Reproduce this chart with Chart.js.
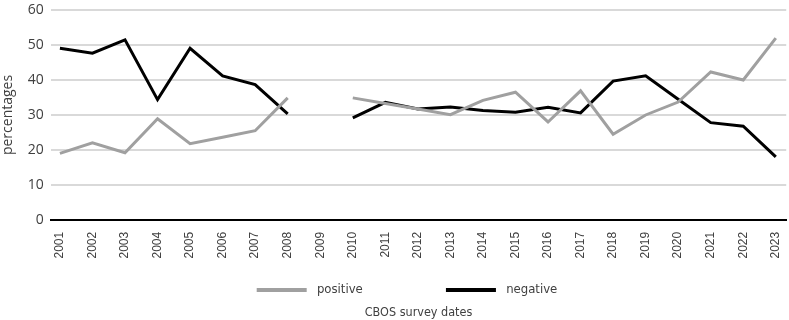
<!DOCTYPE html>
<html>
<head>
<meta charset="utf-8">
<script src="https://cdn.jsdelivr.net/npm/chart.js@4/dist/chart.umd.min.js"></script>
<style>
  html, body { margin: 0; padding: 0; background: #fff; }
  #wrap { width: 789px; height: 320px; }
</style>
</head>
<body>
<div id="wrap"><canvas id="trendChart"></canvas></div>
<script>
const years = [2001, 2002, 2003, 2004, 2005, 2006, 2007, 2008, 2009, 2010, 2011, 2012,
  2013, 2014, 2015, 2016, 2017, 2018, 2019, 2020, 2021, 2022, 2023]
const positive = [19.0, 22.0, 19.2, 28.9, 21.8, 23.6, 25.5, 34.9, null, 34.9, 33.3, 31.7,
  30.1, 34.2, 36.5, 28.0, 36.9, 24.5, 30.0, 33.7, 42.3, 40.0, 52.0]
const negative = [49.1, 47.7, 51.5, 34.4, 49.1, 41.2, 38.7, 30.3, null, 29.2, 33.6, 31.7,
  32.3, 31.3, 30.8, 32.2, 30.6, 39.7, 41.2, 34.5, 27.8, 26.8, 18.0]
const yTicks = [0, 10, 20, 30, 40, 50, 60]

const narrow = "'Liberation Sans Narrow', 'DejaVu Sans Condensed', sans-serif"
const ctx = document.getElementById('trendChart').getContext('2d')

const toPoints = vals => years.map((y, i) => ({ x: y, y: vals[i] }))

// legend sits a bit right of the canvas centre, the x title is centred on the plot
const centreBottomBoxes = {
  id: 'centreBottomBoxes',
  afterLayout(chart) {
    chart.legend.left = 25
    chart.titleBlock.left = chart.chartArea.left
    chart.titleBlock.right = chart.chartArea.right
  }
}

new Chart(ctx, {
  type: 'line',
  data: {
    datasets: [
      {
        label: 'positive',
        data: toPoints(positive),
        borderColor: '#a0a0a0',
        backgroundColor: '#a0a0a0',
        borderWidth: 3,
        pointRadius: 0,
        tension: 0,
        spanGaps: false
      },
      {
        label: 'negative',
        data: toPoints(negative),
        borderColor: '#000000',
        backgroundColor: '#000000',
        borderWidth: 3,
        pointRadius: 0,
        tension: 0,
        spanGaps: false
      }
    ]
  },
  options: {
    responsive: true,
    maintainAspectRatio: false,
    animation: false,
    layout: { padding: 0 },
    plugins: {
      tooltip: { enabled: false },
      legend: {
        position: 'bottom',
        labels: {
          boxWidth: 50,
          boxHeight: 4,
          padding: 13,
          color: '#404040',
          font: { family: narrow, size: 13 },
          generateLabels: chart => {
            const items = Chart.defaults.plugins.legend.labels.generateLabels(chart)
            items[0].text = ' positive' + '\u2002'.repeat(12)
            items[1].text = ' negative'
            items.forEach(it => { it.lineWidth = 0 })
            return items
          }
        }
      },
      title: {
        display: true,
        position: 'bottom',
        text: 'CBOS survey dates',
        color: '#404040',
        font: { family: narrow, size: 12.5, weight: 'normal', lineHeight: 1 },
        padding: { top: 0, bottom: 1 }
      }
    },
    scales: {
      x: {
        type: 'linear',
        min: 2000.72,
        max: 2023.32,
        grid: { display: false, drawTicks: false },
        border: { display: true, color: '#000000', width: 2 },
        afterBuildTicks: s => { s.ticks = years.map(v => ({ value: v })) },
        ticks: {
          autoSkip: false,
          maxRotation: 90,
          minRotation: 90,
          padding: 12,
          color: '#404040',
          font: { family: "'Liberation Sans', Arial, sans-serif", size: 12, lineHeight: 0.1 },
          callback: v => String(v)
        }
      },
      y: {
        min: 0,
        max: 60,
        afterBuildTicks: s => { s.ticks = yTicks.map(v => ({ value: v })) },
        grid: { color: '#d9d9d9', lineWidth: 2, drawTicks: false },
        border: { display: false },
        title: {
          display: true,
          text: 'percentages',
          color: '#404040',
          font: { family: "'Open Sans', sans-serif", size: 14 },
          padding: { top: 0, bottom: 4 }
        },
        ticks: {
          padding: 7,
          color: '#404040',
          font: { family: "'Open Sans', sans-serif", size: 14, lineHeight: 0.45 }
        }
      }
    }
  },
  plugins: [centreBottomBoxes]
})
</script>
</body>
</html>
